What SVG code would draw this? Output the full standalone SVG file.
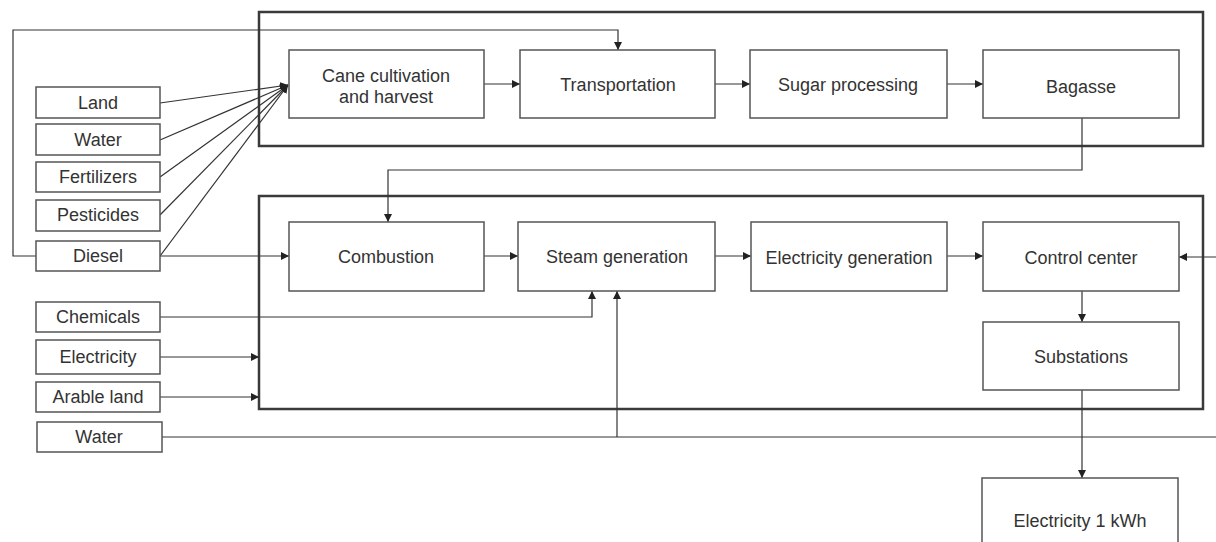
<svg xmlns="http://www.w3.org/2000/svg" width="1216" height="542" viewBox="0 0 1216 542">
<style>
.box{fill:#fff;stroke:#555;stroke-width:1.5}
.outer{fill:none;stroke:#3a3a3a;stroke-width:2.5}
.t{font-family:"Liberation Sans",Arial,sans-serif;font-size:18px;fill:#333;text-anchor:middle;dominant-baseline:central}
.c{fill:none;stroke:#333;stroke-width:1.2}
.ca{fill:none;stroke:#333;stroke-width:1.2;marker-end:url(#ah)}
</style>
<defs>
<marker id="ah" viewBox="0 0 10 10" refX="10" refY="5" markerWidth="8" markerHeight="8" markerUnits="userSpaceOnUse" orient="auto">
<path d="M0,0 L10,5 L0,10 z" fill="#222"/>
</marker>
</defs>
<rect id="group-agri" class="outer" x="259" y="12" width="944" height="134"/>
<rect id="group-power" class="outer" x="259" y="196" width="944" height="213"/>
<g id="connectors">
<path class="ca" d="M36,256 H13 V30 H618 V50"/>
<path class="ca" d="M160,103 L288,85"/>
<path class="ca" d="M160,140 L288,85"/>
<path class="ca" d="M160,177 L288,85"/>
<path class="ca" d="M160,215 L288,85"/>
<path class="ca" d="M160,256 L288,85"/>
<path class="ca" d="M160,256 H289"/>
<path class="ca" d="M484,84 H520"/>
<path class="ca" d="M715,84 H750"/>
<path class="ca" d="M947,84 H983"/>
<path class="ca" d="M1082,118 V170 H388 V222"/>
<path class="ca" d="M484,256 H518"/>
<path class="ca" d="M715,256 H751"/>
<path class="ca" d="M947,256 H983"/>
<path class="ca" d="M1216,257 H1179"/>
<path class="ca" d="M1082,291 V322"/>
<path class="ca" d="M1082,390 V478"/>
<path class="ca" d="M160,317 H592 V291"/>
<path class="ca" d="M160,357 H259"/>
<path class="ca" d="M160,397 H259"/>
<path class="c" d="M162,437 H1216"/>
<path class="ca" d="M617,437 V291"/>
</g>
<g id="land"><rect class="box" x="36" y="87" width="124" height="31"/><text class="t" x="98" y="103">Land</text></g>
<g id="water1"><rect class="box" x="36" y="124" width="124" height="31"/><text class="t" x="98" y="140">Water</text></g>
<g id="fertilizers"><rect class="box" x="36" y="162" width="124" height="30"/><text class="t" x="98" y="177">Fertilizers</text></g>
<g id="pesticides"><rect class="box" x="36" y="200" width="124" height="31"/><text class="t" x="98" y="215">Pesticides</text></g>
<g id="diesel"><rect class="box" x="36" y="241" width="124" height="30"/><text class="t" x="98" y="256">Diesel</text></g>
<g id="chemicals"><rect class="box" x="36" y="302" width="124" height="30"/><text class="t" x="98" y="317">Chemicals</text></g>
<g id="electricity"><rect class="box" x="36" y="340" width="124" height="34"/><text class="t" x="98" y="357">Electricity</text></g>
<g id="arable"><rect class="box" x="36" y="382" width="124" height="30"/><text class="t" x="98" y="397">Arable land</text></g>
<g id="water2"><rect class="box" x="37" y="422" width="125" height="30"/><text class="t" x="99" y="437">Water</text></g>
<g id="cane"><rect class="box" x="289" y="50" width="195" height="68"/><text class="t" x="386" y="76">Cane cultivation</text><text class="t" x="386" y="97">and harvest</text></g>
<g id="transport"><rect class="box" x="520" y="50" width="195" height="68"/><text class="t" x="618" y="85">Transportation</text></g>
<g id="sugar"><rect class="box" x="750" y="50" width="197" height="68"/><text class="t" x="848" y="85">Sugar processing</text></g>
<g id="bagasse"><rect class="box" x="983" y="50" width="196" height="68"/><text class="t" x="1081" y="87">Bagasse</text></g>
<g id="combustion"><rect class="box" x="289" y="222" width="195" height="69"/><text class="t" x="386" y="257">Combustion</text></g>
<g id="steam"><rect class="box" x="518" y="222" width="197" height="69"/><text class="t" x="617" y="257">Steam generation</text></g>
<g id="elecgen"><rect class="box" x="751" y="222" width="196" height="69"/><text class="t" x="849" y="258">Electricity generation</text></g>
<g id="control"><rect class="box" x="983" y="222" width="196" height="69"/><text class="t" x="1081" y="258">Control center</text></g>
<g id="substations"><rect class="box" x="983" y="322" width="196" height="68"/><text class="t" x="1081" y="357">Substations</text></g>
<g id="kwh"><rect class="box" x="982" y="478" width="196" height="70"/><text class="t" x="1080" y="521">Electricity 1 kWh</text></g>
</svg>
